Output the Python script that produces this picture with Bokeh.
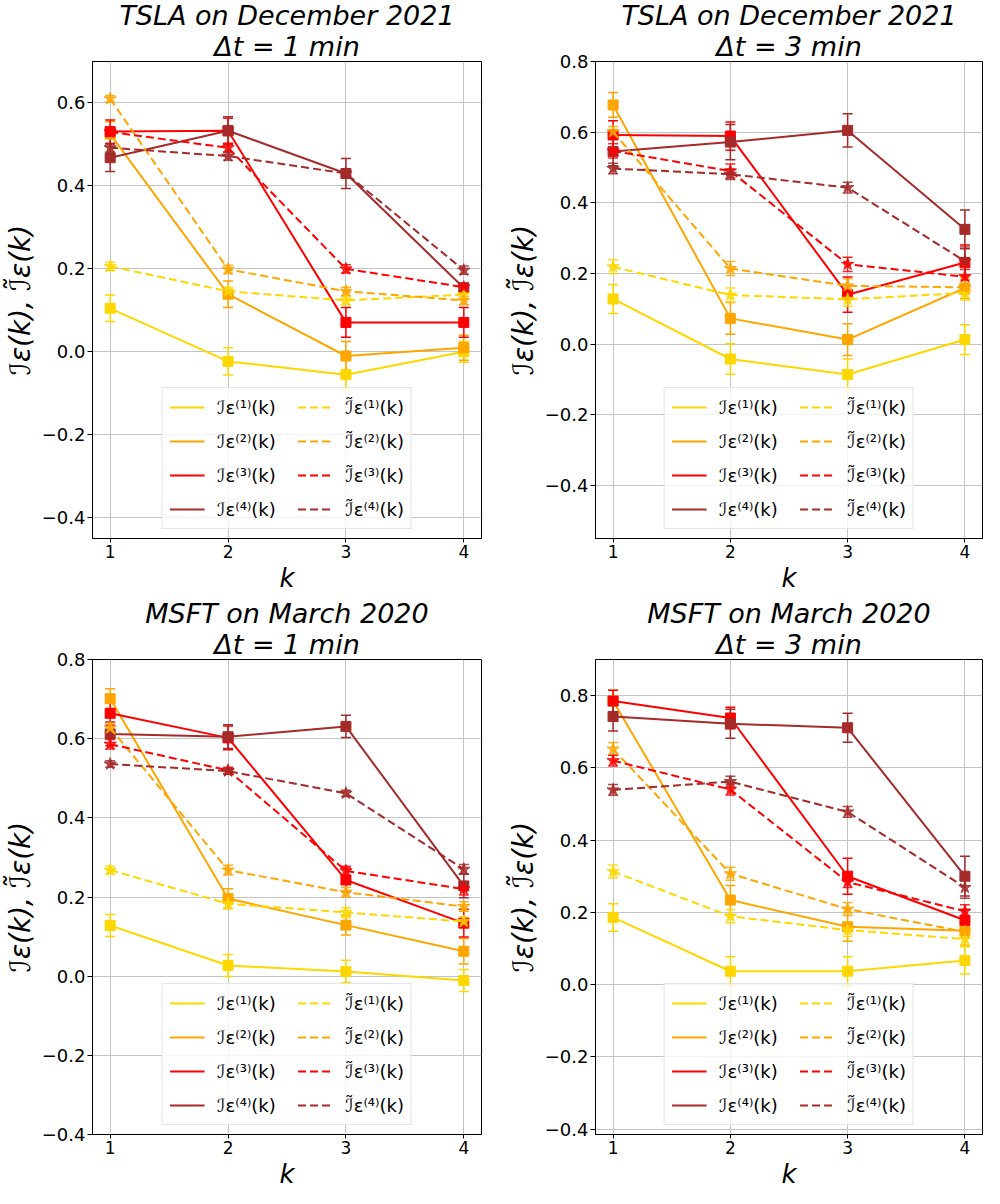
from bokeh.plotting import figure
from bokeh.models import (ColumnDataSource, Whisker, TeeHead, Legend, LegendItem,
                          Range1d, FixedTicker, Title, CustomJSTickFormatter)
from bokeh.layouts import column, row
from bokeh.embed import file_html
from bokeh.resources import INLINE

K = [1, 2, 3, 4]
COLORS = ["#FFD700", "#FFA500", "#FF0000", "#A52A2A"]
Y_TICKS = [-0.4, -0.2, 0.0, 0.2, 0.4, 0.6, 0.8]
LABELS_I = ["ℐε⁽¹⁾(k)", "ℐε⁽²⁾(k)", "ℐε⁽³⁾(k)", "ℐε⁽⁴⁾(k)"]
LABELS_T = ["ℐ̃ε⁽¹⁾(k)", "ℐ̃ε⁽²⁾(k)", "ℐ̃ε⁽³⁾(k)", "ℐ̃ε⁽⁴⁾(k)"]

# ---- TSLA, December 2021, dt = 1 min
TSLA1_I = [[0.105, -0.023, -0.055, 0.000],
           [0.525, 0.139, -0.010, 0.010],
           [0.531, 0.533, 0.071, 0.071],
           [0.468, 0.533, 0.430, 0.154]]
TSLA1_I_ERR = [[0.032, 0.033, 0.035, 0.025],
               [0.030, 0.032, 0.035, 0.030],
               [0.028, 0.030, 0.036, 0.036],
               [0.033, 0.034, 0.036, 0.010]]
TSLA1_T = [[0.206, 0.146, 0.124, 0.138],
           [0.610, 0.199, 0.146, 0.124],
           [0.530, 0.492, 0.200, 0.156],
           [0.492, 0.472, 0.430, 0.197]]
TSLA1_T_ERR = [[0.010, 0.010, 0.010, 0.010],
               [0.008, 0.010, 0.010, 0.010],
               [0.010, 0.010, 0.010, 0.010],
               [0.010, 0.010, 0.010, 0.010]]

# ---- TSLA, December 2021, dt = 3 min
TSLA3_I = [[0.128, -0.042, -0.086, 0.013],
           [0.677, 0.073, 0.013, 0.159],
           [0.592, 0.589, 0.140, 0.231],
           [0.545, 0.572, 0.605, 0.325]]
TSLA3_I_ERR = [[0.041, 0.043, 0.044, 0.042],
               [0.035, 0.045, 0.045, 0.030],
               [0.040, 0.040, 0.050, 0.050],
               [0.040, 0.050, 0.047, 0.055]]
TSLA3_T = [[0.219, 0.139, 0.127, 0.145],
           [0.601, 0.214, 0.165, 0.161],
           [0.547, 0.490, 0.226, 0.191],
           [0.497, 0.481, 0.443, 0.235]]
TSLA3_T_ERR = [[0.020, 0.020, 0.020, 0.020],
               [0.015, 0.020, 0.020, 0.020],
               [0.020, 0.020, 0.020, 0.020],
               [0.015, 0.015, 0.015, 0.040]]

# ---- MSFT, March 2020, dt = 1 min
MSFT1_I = [[0.128, 0.027, 0.012, -0.011],
           [0.701, 0.196, 0.129, 0.063],
           [0.664, 0.602, 0.243, 0.134],
           [0.612, 0.605, 0.631, 0.228]]
MSFT1_I_ERR = [[0.028, 0.028, 0.028, 0.028],
               [0.025, 0.025, 0.025, 0.032],
               [0.030, 0.030, 0.030, 0.035],
               [0.030, 0.030, 0.028, 0.030]]
MSFT1_T = [[0.268, 0.183, 0.161, 0.138],
           [0.627, 0.268, 0.212, 0.176],
           [0.586, 0.520, 0.266, 0.220],
           [0.536, 0.518, 0.462, 0.270]]
MSFT1_T_ERR = [[0.010, 0.012, 0.012, 0.012],
               [0.012, 0.012, 0.012, 0.012],
               [0.012, 0.008, 0.012, 0.015],
               [0.008, 0.008, 0.008, 0.012]]

# ---- MSFT, March 2020, dt = 3 min
MSFT3_I = [[0.186, 0.037, 0.037, 0.067],
           [0.785, 0.234, 0.160, 0.149],
           [0.785, 0.738, 0.300, 0.178],
           [0.742, 0.722, 0.711, 0.300]]
MSFT3_I_ERR = [[0.038, 0.040, 0.040, 0.038],
               [0.030, 0.040, 0.040, 0.040],
               [0.030, 0.030, 0.050, 0.030],
               [0.040, 0.040, 0.040, 0.055]]
MSFT3_T = [[0.313, 0.189, 0.151, 0.126],
           [0.652, 0.307, 0.209, 0.146],
           [0.620, 0.540, 0.284, 0.203],
           [0.539, 0.562, 0.478, 0.269]]
MSFT3_T_ERR = [[0.018, 0.018, 0.018, 0.018],
               [0.018, 0.018, 0.018, 0.018],
               [0.015, 0.015, 0.015, 0.018],
               [0.015, 0.015, 0.015, 0.030]]

FONT = "DejaVu Sans"


def add_series(p, vals, errs, color, marker, size, dash, alpha):
    up = [v + e for v, e in zip(vals, errs)]
    lo = [v - e for v, e in zip(vals, errs)]
    src = ColumnDataSource(dict(x=K, y=vals, up=up, lo=lo))
    r = p.line("x", "y", source=src, line_color=color, line_width=2, line_dash=dash)
    p.add_layout(Whisker(source=src, base="x", upper="up", lower="lo",
                         line_color=color, line_width=1.5, line_alpha=alpha,
                         upper_head=TeeHead(size=10, line_color=color, line_width=1.5, line_alpha=alpha),
                         lower_head=TeeHead(size=10, line_color=color, line_width=1.5, line_alpha=alpha)))
    p.scatter("x", "y", source=src, marker=marker, size=size, fill_color=color,
              line_color=color, fill_alpha=alpha, line_alpha=alpha)
    return r


def make_panel(line1, line2, I, IE, T, TE, yr, w, h, bl, br, bt, bb):
    p = figure(width=w, height=h, output_backend="svg", toolbar_location=None,
               x_range=Range1d(0.85, 4.15), y_range=Range1d(*yr),
               min_border_left=bl, min_border_right=br, min_border_top=bt, min_border_bottom=bb,
               background_fill_color="white", border_fill_color="white")
    p.add_layout(Title(text=line2, align="center", text_font=FONT, text_font_size="27px",
                       text_font_style="italic", text_color="black",
                       standoff=0, offset=0), "above")
    p.add_layout(Title(text=line1, align="center", text_font=FONT, text_font_size="27px",
                       text_font_style="italic", text_color="black",
                       standoff=-5, offset=0), "above")
    p.outline_line_color = "black"
    p.outline_line_width = 1
    p.xgrid.grid_line_color = "#c4c4c4"
    p.ygrid.grid_line_color = "#c4c4c4"
    p.xaxis.ticker = FixedTicker(ticks=K)
    p.yaxis.ticker = FixedTicker(ticks=Y_TICKS)
    p.yaxis.formatter = CustomJSTickFormatter(code="return tick.toFixed(1).replace('-', '\u2212');")
    for ax in (p.xaxis[0], p.yaxis[0]):
        ax.major_label_text_font = FONT
        ax.major_label_text_font_size = "18px"
        ax.major_label_text_color = "black"
        ax.axis_label_text_font = FONT
        ax.axis_label_text_font_style = "italic"
        ax.axis_label_text_color = "black"
        ax.major_label_standoff = 2
        ax.major_tick_in = 0
        ax.major_tick_out = 5
        ax.minor_tick_in = 0
        ax.minor_tick_out = 0
        ax.axis_line_color = "black"
        ax.major_tick_line_color = "black"
    p.xaxis.major_label_text_font_size = "17px"
    p.xaxis.major_tick_out = 4
    p.xaxis.axis_label_standoff = 0
    p.yaxis.axis_label_text_font_size = "28px"
    p.yaxis.axis_label_standoff = 2
    p.yaxis.axis_label = "ℐε(k), ℐ̃ε(k)"
    # x-axis label drawn as a compact title below the axis
    p.add_layout(Title(text="k", align="center", text_font=FONT, text_font_size="26px",
                       text_font_style="italic", text_color="black",
                       standoff=0, offset=0), "below")

    solid, dashed = [], []
    for i in range(4):
        solid.append(add_series(p, I[i], IE[i], COLORS[i], "square", 10, "solid", 1.0))
    for i in range(4):
        dashed.append(add_series(p, T[i], TE[i], COLORS[i], "star", 13, "8 4", 0.85))

    items = [LegendItem(label=LABELS_I[i] + "  ", renderers=[solid[i]]) for i in range(4)]
    items += [LegendItem(label=LABELS_T[i], renderers=[dashed[i]]) for i in range(4)]
    leg = Legend(items=items, location="bottom_center", ncols=2,
                 label_text_font=FONT, label_text_font_size="18px", label_text_color="black",
                 glyph_width=35, glyph_height=24, label_height=24, label_standoff=13,
                 spacing=10, padding=7, margin=9,
                 background_fill_color="white", background_fill_alpha=0.8,
                 border_line_color="#cccccc", border_line_width=1)
    p.add_layout(leg)
    return p


p1 = make_panel("TSLA on December 2021", "Δt = 1 min", TSLA1_I, TSLA1_I_ERR, TSLA1_T, TSLA1_T_ERR,
                (-0.45, 0.70), 503, 598, 85, 22, 52, 60)
p2 = make_panel("TSLA on December 2021", "Δt = 3 min", TSLA3_I, TSLA3_I_ERR, TSLA3_T, TSLA3_T_ERR,
                (-0.55, 0.80), 481, 598, 86, 2, 52, 60)
p3 = make_panel("MSFT on March 2020", "Δt = 1 min", MSFT1_I, MSFT1_I_ERR, MSFT1_T, MSFT1_T_ERR,
                (-0.40, 0.80), 503, 590, 85, 22, 60, 40)
p4 = make_panel("MSFT on March 2020", "Δt = 3 min", MSFT3_I, MSFT3_I_ERR, MSFT3_T, MSFT3_T_ERR,
                (-0.415, 0.90), 481, 590, 86, 2, 60, 40)

layout = column(row(p1, p2), row(p3, p4))
open("out.html", "w").write(file_html(layout, INLINE))
